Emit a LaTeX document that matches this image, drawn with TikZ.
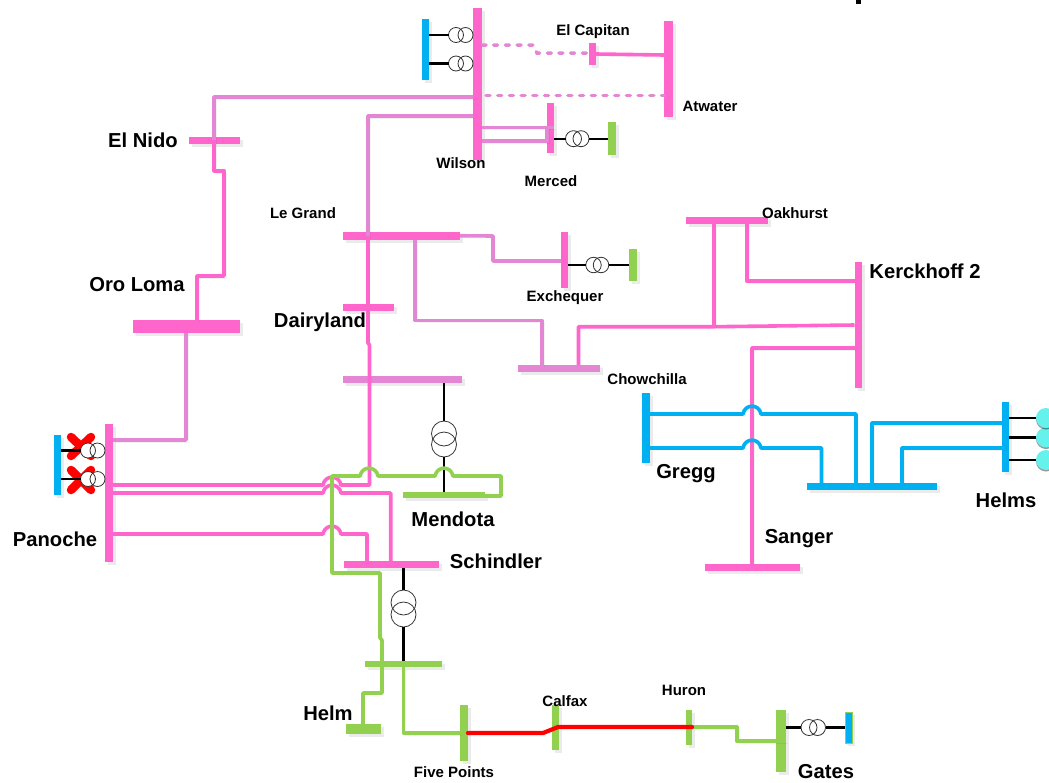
\documentclass[tikz,border=0pt]{standalone}
\usepackage{fontspec}
\setmainfont{Liberation Sans}
\usetikzlibrary{shadows,calc}
\definecolor{buspink}{HTML}{FF66CC}
\definecolor{busorchid}{HTML}{E387D4}
\definecolor{busgreen}{HTML}{92D050}
\definecolor{busblue}{HTML}{00B0F0}
\definecolor{genteal}{HTML}{66F2EC}
\tikzset{
  x=1pt,y=-1pt,
  busbar/.style={rectangle,draw=none,inner sep=0pt,outer sep=0pt,
    drop shadow={shadow xshift=3pt,shadow yshift=-3pt,fill=black,opacity=.08}},
  feeder/.style={line width=3.6pt,line join=round,
    preaction={draw=black,draw opacity=.05,transform canvas={shift={(2pt,-2pt)}}}},
  pinkline/.style={feeder,draw=buspink},
  orchidline/.style={feeder,draw=busorchid},
  greenline/.style={feeder,draw=busgreen},
  blueline/.style={feeder,draw=busblue},
  dashline/.style={line width=3.5pt,draw=busorchid,line cap=round,dash pattern=on 4pt off 7.7pt},
  redline/.style={line width=4.2pt,draw=red,line join=round,line cap=round},
  tie/.style={line width=2.2pt,draw=black},
  fault/.style={line width=8.5pt,draw=red,line cap=round},
  xfc/.style={circle,draw=black!80,line width=.8pt,inner sep=0pt,outer sep=0pt},
  gen/.style={circle,fill=genteal,inner sep=0pt,outer sep=0pt,minimum size=20pt,
    drop shadow={shadow xshift=0pt,shadow yshift=-1.5pt,fill=black,opacity=.4}},
  biglabel/.style={font=\fontsize{20.2}{22}\selectfont\bfseries,inner sep=0pt,text height=14.4pt,text depth=0pt},
  smalllabel/.style={font=\fontsize{15}{16}\selectfont\bfseries,inner sep=0pt,text height=10.7pt,text depth=0pt},
  hop/.style 2 args={insert path={-- (#1-9,#2) .. controls (#1-7,#2-10.5) and (#1+7,#2-10.5) .. (#1+9,#2)}},
}
\newcommand{\busnode}[6]{\node[busbar,fill=#6,minimum width={(#4-#2)*1pt},minimum height={(#5-#3)*1pt}] (#1) at ({(#2+#4)/2},{(#3+#5)/2}) {};}
\newcommand{\xfmr}[6]{%
  \fill[white] (#2,#3) circle[radius=#6pt] (#4,#5) circle[radius=#6pt];
  \node[xfc,minimum size={2*#6pt}] (#1a) at (#2,#3) {};
  \node[xfc,minimum size={2*#6pt}] (#1b) at (#4,#5) {};}
\begin{document}
\begin{tikzpicture}
\useasboundingbox (0,0) rectangle (1049,782);
% stray mark at the top edge
\fill[black] (856,0) rectangle (861,4);
% buses
\busnode{wilson}{473}{8}{482}{160}{buspink}
\busnode{wilsongen}{421.5}{19}{429}{80}{busblue}
\busnode{elcapitan}{589}{43}{596}{65}{buspink}
\busnode{atwater}{664}{21}{673}{117}{buspink}
\busnode{merced}{547}{103}{554}{153}{buspink}
\busnode{mercedgen}{608}{122}{616}{155}{busgreen}
\busnode{elnido}{189}{137}{240}{144}{buspink}
\busnode{oroloma}{133}{320}{240}{333}{buspink}
\busnode{legrand}{343}{232}{460}{239.5}{buspink}
\busnode{dairyland}{343}{304}{394}{311}{buspink}
\busnode{dairylow}{343}{376}{462}{383}{busorchid}
\busnode{exchequer}{561}{232}{568}{288}{buspink}
\busnode{exchgen}{629}{249}{637}{281}{busgreen}
\busnode{chowchilla}{518}{365}{600}{372}{busorchid}
\busnode{oakhurst}{686}{217}{768}{224}{buspink}
\busnode{kerckhoff}{854.5}{262}{862}{388}{buspink}
\busnode{sanger}{705}{564}{800}{571}{buspink}
\busnode{gregg}{642}{393}{650}{463}{busblue}
\busnode{helmsbus}{807}{483}{937}{490}{busblue}
\busnode{helms}{1002}{402}{1009}{472}{busblue}
\busnode{panoche}{105}{424}{113}{562}{buspink}
\busnode{panochegen}{53.5}{435}{61}{495}{busblue}
\busnode{mendota}{403}{492}{485}{497.5}{busgreen}
\busnode{schindler}{344}{561}{439}{568}{buspink}
\busnode{helmup}{365}{661}{442}{667}{busgreen}
\busnode{helm}{346}{724}{381}{733.5}{busgreen}
\busnode{fivepoints}{460}{705}{468}{761}{busgreen}
\busnode{calfax}{552}{705}{559}{750}{busgreen}
\busnode{huron}{686}{710}{692}{745}{busgreen}
\busnode{gates}{776}{710}{786}{772}{busgreen}
\node[busbar,fill=busblue,draw=busgreen,line width=.8pt,minimum width=7pt,minimum height=31pt] (gatesgen) at (848.5,727.5) {};
% faults
\draw[fault] (71,437) -- (91,456);
\draw[fault] (91,437) -- (71,456);
\draw[fault] (71,470) -- (91,490);
\draw[fault] (91,470) -- (71,490);
% transformers
\xfmr{tw}{456}{35}{465.5}{35}{7.5}
\xfmr{tx}{456}{63.5}{465.5}{63.5}{7.5}
\xfmr{tm}{573.5}{138.7}{581}{138.7}{8}
\xfmr{te}{593.5}{265}{601}{265}{7.75}
\xfmr{tpa}{88}{450.5}{97.5}{450.5}{7.5}
\xfmr{tpb}{88}{479}{97.5}{479}{7.5}
\xfmr{tg}{809}{727.5}{817.5}{727.5}{8}
\xfmr{tmen}{444}{433.5}{444}{444.5}{12.5}
\xfmr{tsch}{403.5}{602.5}{403.5}{614.5}{12.5}
% black ties
\draw[tie] (wilsongen.east |- twa.west) -- (twa.west);
\draw[tie] (wilsongen.east |- txa.west) -- (txa.west);
\draw[tie] (merced.east |- tma.west) -- (tma.west);
\draw[tie] (tmb.east) -- (mercedgen.west |- tmb.east);
\draw[tie] (exchequer.east |- tea.west) -- (tea.west);
\draw[tie] (teb.east) -- (exchgen.west |- teb.east);
\draw[tie] (panochegen.east |- tpaa.west) -- (tpaa.west);
\draw[tie] (panochegen.east |- tpba.west) -- (tpba.west);
\draw[tie] (gates.east |- tga.west) -- (tga.west);
\draw[tie] (tgb.east) -- (gatesgen.west |- tgb.east);
\draw[tie] (tmena.north |- dairylow.south) -- (tmena.north);
\draw[tie] (tmenb.south) -- (tmenb.south |- mendota.north);
\draw[tie] (tscha.north |- schindler.south) -- (tscha.north);
\draw[tie] (tschb.south) -- (tschb.south |- helmup.north);
% pink and orchid feeders
\draw[dashline] (wilson.east |- 0,45) -- (533,45) -- (537,53) -- (elcapitan.west |- 0,53);
\draw[dashline] (wilson.east |- 0,95.7) ++(4,0) -- (atwater.west |- 0,95.7);
\draw[pinkline] (elcapitan.east |- 0,54) -- (atwater.west |- 0,55);
\draw[orchidline] (wilson.east |- 0,127.3) -- (merced.east |- 0,127.3);
\draw[orchidline] (wilson.east |- 0,141) -- (547,141) -- (547,127.3);
\draw[orchidline] (wilson.west |- 0,97) -- (214,97) -- (214,140);
\draw[pinkline] (214,140) -- (214,170.7) -- (224,170.7) -- (224,276) -- (197,276) -- (197,0 |- oroloma.north);
\draw[orchidline] (wilson.west |- 0,116) -- (368,116) -- (368,236);
\draw[orchidline] (panoche.east |- 0,440) -- (186,440) -- (186,0 |- oroloma.south);
\draw[pinkline] (panoche.east |- 0,485) [hop={332}{485}] -- (369.5,485) -- (369.5,345) -- (368,343) -- (368,236);
\draw[pinkline] (panoche.east |- 0,493) [hop={332}{493}] -- (390.7,493) -- (390.7,0 |- schindler.north);
\draw[pinkline] (panoche.east |- 0,534) [hop={332}{534}] -- (367,534) -- (367,0 |- schindler.north);
\draw[orchidline] (legrand.east) -- (493,236) -- (493,261) -- (exchequer.west |- 0,261);
\draw[orchidline] (415,0 |- legrand.south) -- (415,320.5) -- (541.7,320.5) -- (541.7,0 |- chowchilla.north);
\draw[pinkline] (578.5,0 |- chowchilla.north) -- (578.5,326.7) -- (714,326.7) -- (kerckhoff.west |- 0,325);
\draw[pinkline] (714,0 |- oakhurst.south) -- (714,326.7);
\draw[pinkline] (746.7,0 |- oakhurst.south) -- (746.7,281) -- (kerckhoff.west |- 0,281);
\draw[pinkline] (kerckhoff.west |- 0,348) -- (752,348) -- (752,0 |- sanger.north);
% blue feeders
\draw[blueline] (gregg.east |- 0,414) [hop={752}{414}] -- (856,414) -- (856,0 |- helmsbus.north);
\draw[blueline] (gregg.east |- 0,448) [hop={752}{448}] -- (821.5,448) -- (821.5,0 |- helmsbus.north);
\draw[blueline] (872,0 |- helmsbus.north) -- (872,423) -- (helms.west |- 0,423);
\draw[blueline] (902,0 |- helmsbus.north) -- (902,448) -- (helms.west |- 0,448);
% green feeders
\draw[greenline] (363,0 |- helm.center) -- (363,693) -- (382,693) -- (382,640) -- (380,638) -- (380,573) -- (332,573) -- (332,476) [hop={369}{476}] [hop={444}{476}] -- (501,476) -- (501,496) -- (mendota.east |- 0,496);
\draw[greenline] (403.5,0 |- helmup.south) -- (403.5,733) -- (fivepoints.west |- 0,733);
\draw[greenline] (huron.east |- 0,727) -- (736.7,727) -- (736.7,741) -- (gates.east |- 0,741);
\draw[redline] (fivepoints.east |- 0,733) -- (543,733) -- (558,727) -- (huron.east |- 0,727);
% generators
\begin{scope}
\clip (0,0) rectangle (1049,782);
\node[gen] (g3) at (1046,460) {};
\node[gen] (g2) at (1046,437.5) {};
\node[gen] (g1) at (1046,418) {};
\draw[tie] (helms.east |- g1.west) -- (g1.west);
\draw[tie] (helms.east |- g2.west) -- (g2.west);
\draw[tie] (helms.east |- g3.west) -- (g3.west);
\end{scope}
% labels
\node[biglabel] (lElNido) at (143,140) {El Nido};
\node[biglabel] (lOro) at (137,284) {Oro Loma};
\node[biglabel] (lDairy) at (320,320) {Dairyland};
\node[biglabel] (lKerck) at (925,271) {Kerckhoff 2};
\node[biglabel] (lGregg) at (686,471) {Gregg};
\node[biglabel] (lHelms) at (1006,500) {Helms};
\node[biglabel] (lSanger) at (799,536) {Sanger};
\node[biglabel] (lPan) at (55,539) {Panoche};
\node[biglabel] (lMen) at (453,519) {Mendota};
\node[biglabel] (lSch) at (496,561) {Schindler};
\node[biglabel] (lHelm) at (328,713) {Helm};
\node[biglabel] (lGates) at (826,771) {Gates};
\node[smalllabel] (lLe) at (303,213) {Le Grand};
\node[smalllabel] (lCap) at (593,30) {El Capitan};
\node[smalllabel] (lAt) at (710,106) {Atwater};
\node[smalllabel] (lWil) at (461,163) {Wilson};
\node[smalllabel] (lMer) at (551,181) {Merced};
\node[smalllabel] (lEx) at (565,296) {Exchequer};
\node[smalllabel] (lOak) at (795,213) {Oakhurst};
\node[smalllabel] (lCho) at (647,379) {Chowchilla};
\node[smalllabel] (lHur) at (684,690) {Huron};
\node[smalllabel] (lCal) at (565,701) {Calfax};
\node[smalllabel] (lFive) at (454,772) {Five Points};
\end{tikzpicture}
\end{document}
